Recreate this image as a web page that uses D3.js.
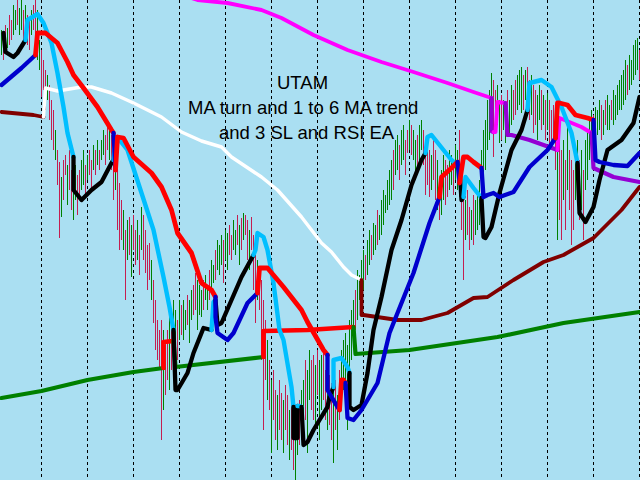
<!DOCTYPE html>
<html><head><meta charset="utf-8">
<script src="https://cdn.jsdelivr.net/npm/d3@7"></script>
<style>html,body{margin:0;padding:0;background:#aadff2;overflow:hidden}</style>
</head><body><svg id="c" width="640" height="480"></svg>
<script>
// ---- price bars (high / low in price points, direction u = up, d = down) ----
const barHigh = [
450,442,455,452,465,460,475,470,480,472, 480,470,475,465,460,470,475,480,470,440,
430,420,410,405,395,380,370,350,330,318, 303,320,325,315,330,310,300,315,305,310,
320,330,315,325,330,320,335,330,340,330, 340,350,345,360,355,345,330,340,320,297,
280,270,250,260,263,255,265,250,260,245, 273,265,250,235,237,220,200,180,160,150,
160,150,140,150,170,160,180,170,160,180, 175,180,170,185,180,190,195,207,200,195,
190,200,205,195,210,220,215,230,240,235, 245,240,250,247,255,245,260,250,265,255,
262,267,265,260,250,263,245,230,220,210, 200,180,160,140,120,100,110,90,85,100,
87,80,95,85,70,80,65,60,75,80, 90,100,120,110,130,120,125,115,130,120,
125,130,110,120,105,97,90,100,85,110, 130,140,147,135,160,170,180,190,210,205,
220,230,225,240,250,245,257,255,270,265, 280,290,285,300,310,320,330,340,345,335,
350,355,340,350,360,355,350,340,345,355, 360,350,330,335,330,325,340,330,320,300,
310,325,320,315,330,325,320,335,330,350, 310,300,280,290,273,270,285,280,290,300,
330,350,360,380,390,407,400,390,395,380, 385,380,375,390,380,395,390,400,405,410,
413,405,410,413,400,405,395,390,385,395, 390,385,380,387,380,370,375,360,340,350,
330,340,320,357,330,320,310,330,340,320, 330,310,340,350,360,370,365,373,370,380,
375,370,380,385,375,380,390,385,395,400, 405,410,420,415,425,420,435,440,442,430];
const barLow = [
425,420,430,432,435,440,445,450,455,445, 450,440,455,435,430,445,450,425,420,410,
383,390,370,380,360,340,330,320,295,242, 263,280,305,275,290,270,260,280,265,285,
290,295,283,300,305,290,310,305,315,310, 320,325,315,330,320,310,280,290,250,230,
240,230,180,220,225,203,230,215,220,205, 230,220,207,190,200,180,157,130,120,113,
40,70,85,100,90,110,130,135,120,140, 145,140,150,155,137,160,165,170,150,165,
163,170,180,170,180,190,197,200,210,205, 215,197,220,210,225,220,230,225,235,215,
230,240,245,220,210,230,190,157,180,170, 120,50,100,80,70,27,60,40,30,50,
40,27,50,35,20,30,10,0,25,35, 40,50,60,27,80,70,60,55,85,40,
70,80,60,50,55,40,17,50,30,60, 80,90,100,50,110,120,140,150,160,180,
180,190,200,205,215,220,225,230,235,240, 245,255,267,270,275,280,290,305,310,300,
315,320,305,327,330,325,320,300,310,320, 330,315,285,295,283,290,300,280,270,260,
265,280,275,283,290,295,285,300,290,283, 250,200,240,245,230,240,235,245,250,255,
270,290,310,330,340,350,323,350,355,337, 340,350,337,350,345,355,360,365,370,375,
367,370,380,375,360,365,347,355,340,360, 350,355,340,350,330,335,340,310,240,260,
240,280,250,290,270,235,250,280,290,260, 270,240,290,300,320,330,335,340,345,350,
340,345,355,350,350,360,355,360,365,370, 370,375,380,385,390,395,400,405,410,400];
const barDir =
 "uddudduudu"+"ududdudduu"+"dddudddudd"+"uddudduudd"+"uududdudud"+"uudduddudd"+"dudududdud"+"uddddudddd"+
 "dudduduudu"+"duuduudduu"+"uduuduuduu"+"uduudduudu"+"duddudddud"+"dddududdud"+"duddudduud"+"uuduuddudu"+
 "udduddudud"+"uuuuuuuduu"+"uuduuduudu"+"uuuuuuduud"+"uudduduudu"+"udddduddud"+"uudduuduud"+"ddudduduuu"+
 "uuuuuudduu"+"duuduudduu"+"ududdudduu"+"dududdddud"+"dududdduud"+"uduuuuduuu"+"duduuduuuu"+"uuuduuuuud";

// ---- time grid (bar indexes of the vertical separators) ----
const gridBars = [20,43,66,89,112,135,158,181,204,227,250,273,296,319];

// ---- moving averages: [bar, value, state] ----
const ma6 = [[0,82,"g"],[20,89,"g"],[43,100,"g"],[66,108,"g"],[81,112,"g"],
 [81,138,"r"],[86,139,"r"],
 [87,113,"g"],[131,123,"g"],
 [131,149,"r"],[153,150,"r"],[176,153,"r"],
 [177,126,"g"],[204,130,"g"],[248,143,"g"],[281,157,"g"],[319,168,"g"]];

const ma5 = [[0,368,"b"],[16,365,"b"],[21,363,"b"],
 [22,392,"w"],[28,389,"w"],[40,393,"w"],[45,393,"w"],[55,387,"w"],[66,377,"w"],[80,363,"w"],[90,348,"w"],
 [100,339,"w"],[110,333,"w"],[115,323,"w"],[130,303,"w"],[138,290,"w"],[150,263,"w"],[160,237,"w"],
 [165,228,"w"],[171,213,"w"],[175,205,"w"],[180,200,"w"],
 [180,165,"b"],[181,165,"b"],[198,160,"b"],[210,160,"b"],[223,167,"b"],[236,182,"b"],[243,183,"b"],
 [256,200,"b"],[271,218,"b"],[281,225,"b"],[296,242,"b"],[310,270,"b"],[319,293,"b"]];

const ma4 = [[95,482,"m"],[98,480,"m"],[113,477,"m"],[130,470,"m"],[140,462,"m"],[156,445,"m"],[173,430,"m"],
 [190,418,"m"],[206,408,"m"],[223,397,"m"],[236,388,"m"],[245,382,"m"],
 [245,349,"p"],[246,348,"p"],
 [247,348,"m"],[248,378,"m"],[252,377,"m"],
 [253,345,"p"],[255,345,"p"],[264,340,"p"],[278,330,"p"],
 [279,362,"m"],[290,353,"m"],[295,347,"m"],
 [296,312,"p"],[306,303,"p"],[319,298,"p"]];

const ma1 = [[1,447,"k"],[2,428,"k"],[6,423,"k"],[8,427,"k"],[12,440,"k"],
 [13,460,"c"],[18,466,"c"],[21,457,"c"],[25,437,"c"],[28,407,"c"],[31,373,"c"],[33,347,"c"],[36,323,"c"],
 [36,290,"k"],[40,280,"k"],[45,290,"k"],[50,298,"k"],[55,317,"k"],[56,320,"k"],
 [57,343,"c"],[59,340,"c"],[63,330,"c"],[70,287,"c"],[76,250,"c"],[81,203,"c"],[84,173,"c"],[86,150,"c"],
 [87,90,"k"],[88,90,"k"],[93,107,"k"],[96,127,"k"],[101,152,"k"],[105,150,"k"],
 [106,178,"c"],[107,180,"c"],
 [108,155,"k"],[110,157,"k"],[115,180,"k"],[120,203,"k"],[126,225,"k"],
 [127,230,"c"],[128,247,"c"],[131,243,"c"],[133,230,"c"],[136,197,"c"],[139,150,"c"],[141,140,"c"],[145,93,"c"],[146,73,"c"],
 [146,42,"k"],[148,42,"k"],[148,74,"k"],
 [149,74,"c"],[150,73,"c"],
 [151,35,"k"],[153,38,"k"],[156,50,"k"],[159,60,"k"],[163,73,"k"],[164,83,"k"],[166,93,"k"],
 [166,120,"c"],[170,122,"c"],[173,113,"c"],[174,107,"c"],
 [174,73,"k"],[176,70,"k"],[180,75,"k"],[183,107,"k"],[186,150,"k"],[190,183,"k"],[195,230,"k"],[200,260,"k"],
 [205,295,"k"],[210,320,"k"],[212,327,"k"],
 [213,343,"c"],[215,345,"c"],[217,340,"c"],[221,330,"c"],[225,320,"c"],[229,313,"c"],
 [230,280,"k"],[231,283,"k"],
 [232,303,"c"],[236,292,"c"],[240,282,"c"],
 [241,243,"k"],[242,242,"k"],[245,253,"k"],[247,270,"k"],[249,287,"k"],[255,330,"k"],[260,350,"k"],[263,370,"k"],
 [264,397,"c"],[270,400,"c"],[275,393,"c"],[280,373,"c"],[285,347,"c"],[288,317,"c"],
 [289,267,"k"],[292,258,"k"],[296,273,"k"],[299,300,"k"],[303,330,"k"],[310,340,"k"],[316,357,"k"],[319,383,"k"]];

const ma2 = [[0,395,"b"],[10,412,"b"],[17,425,"b"],
 [18,447,"r"],[22,447,"r"],[28,437,"r"],[33,418,"r"],[36,405,"r"],[41,392,"r"],[48,373,"r"],[55,350,"r"],[56,347,"r"],
 [57,310,"b"],
 [58,343,"r"],[61,342,"r"],[66,323,"r"],[75,307,"r"],[80,293,"r"],[85,270,"r"],[88,247,"r"],[95,227,"r"],
 [100,197,"r"],[105,190,"r"],[107,183,"r"],
 [107,163,"b"],[108,147,"b"],[113,140,"b"],[116,147,"b"],[123,177,"b"],[128,187,"b"],
 [129,212,"r"],[133,212,"r"],[141,193,"r"],[150,170,"r"],[153,158,"r"],[161,130,"r"],[163,125,"r"],
 [163,90,"b"],[165,83,"b"],[169,70,"b"],
 [170,100,"r"],[171,100,"r"],[172,97,"r"],
 [173,62,"b"],[176,60,"b"],[180,70,"b"],[188,97,"b"],[194,147,"b"],[198,167,"b"],[206,207,"b"],[214,257,"b"],[219,283,"b"],
 [220,303,"r"],[225,312,"r"],[228,318,"r"],
 [229,297,"b"],
 [231,323,"r"],[233,323,"r"],[236,318,"r"],[240,312,"r"],
 [241,283,"b"],[243,285,"b"],[246,287,"b"],[249,283,"b"],[256,288,"b"],[264,313,"b"],[273,330,"b"],[277,342,"b"],
 [278,377,"r"],[279,377,"r"],[283,375,"r"],[287,365,"r"],[293,362,"r"],[296,360,"r"],
 [297,320,"b"],[299,318,"b"],[306,315,"b"],[313,314,"b"],[319,327,"b"]];

const titleLines = ["UTAM", "MA turn and 1 to 6 MA trend", "and 3 SL and RSI EA"];

// ---- drawing ----
const W = 640, H = 480;
const svg = d3.select("#c");
const x = d3.scaleLinear().domain([-0.75, 319.25]).range([0, W]);
const y = d3.scaleLinear().domain([0, 480]).range([H, 0]);

svg.append("rect").attr("width", W).attr("height", H).attr("fill", "#aadff2");

// grid
svg.append("g").selectAll("line").data(gridBars).join("line")
  .attr("x1", d => x(d)).attr("x2", d => x(d)).attr("y1", 0).attr("y2", H)
  .attr("stroke", "#000").attr("stroke-width", 1).attr("stroke-dasharray", "3,3")
  .attr("shape-rendering", "crispEdges");

// bars
svg.append("g").selectAll("line").data(d3.range(barHigh.length)).join("line")
  .attr("x1", i => x(i)).attr("x2", i => x(i))
  .attr("y1", i => y(barHigh[i])).attr("y2", i => y(barLow[i]))
  .attr("stroke", i => barDir[i] === "u" ? "#008000" : "#c41e50")
  .attr("stroke-width", 1).attr("shape-rendering", "crispEdges");

// text
const tx = [277, 188, 219], ty = [89, 114, 139];
svg.append("g").selectAll("text").data(titleLines).join("text")
  .attr("x", (d, i) => tx[i]).attr("y", (d, i) => ty[i])
  .attr("font-family", "'Liberation Sans', Arial, sans-serif").attr("font-size", 18.5)
  .attr("fill", "#000").text(d => d);

// moving averages
const lineGen = d3.line().x(d => x(d[0])).y(d => y(d[1]));
const styles = [
  {data: ma6, colors: {g: "#008000", r: "#ff0000"}, widths: {g: 4.2, r: 4.6}},
  {data: ma5, colors: {b: "#800000", w: "#ffffff"}, widths: {b: 3.8, w: 3.4}},
  {data: ma4, colors: {m: "#ff00ff", p: "#9400d3"}, widths: {m: 3.9, p: 4.2}},
  {data: ma1, colors: {k: "#000000", c: "#00bfff"}, widths: {k: 4.3, c: 4.4}},
  {data: ma2, colors: {b: "#0000cd", r: "#ff0000"}, widths: {b: 4.3, r: 4.8}}
];
styles.forEach(st => {
  const runs = [];
  let cur = null;
  for (let j = 1; j < st.data.length; j++) {
    const s = st.data[j][2];
    if (!cur || cur.s !== s) { cur = {s, pts: [st.data[j - 1]]}; runs.push(cur); }
    cur.pts.push(st.data[j]);
  }
  const g = svg.append("g");
  runs.forEach(r => {
    g.append("path").attr("d", lineGen(r.pts)).attr("fill", "none")
      .attr("stroke", st.colors[r.s]).attr("stroke-width", st.widths[r.s])
      .attr("stroke-linejoin", "round").attr("stroke-linecap", "round");
  });
});
</script></body></html>
